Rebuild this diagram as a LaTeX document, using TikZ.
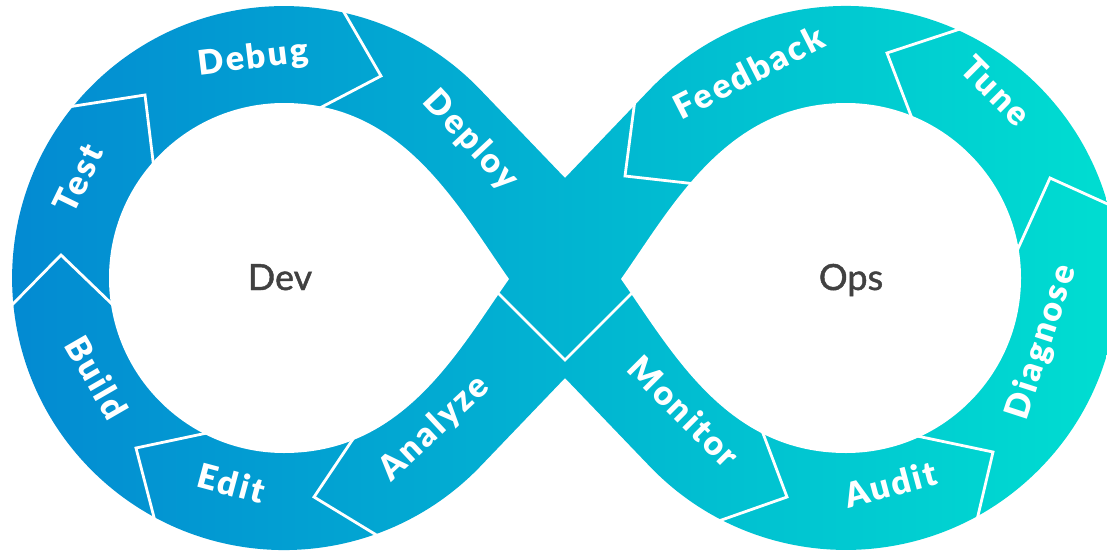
\documentclass[tikz,border=0pt]{standalone}
\usepackage{fontspec}
\setmainfont{Lato}
\newfontfamily\stagefont[LetterSpace=7]{Lato Black}
\newfontfamily\hubfont[FakeBold=1.2]{Lato}
\definecolor{devblue}{HTML}{0388D2}
\definecolor{midblue}{HTML}{00AAD0}
\definecolor{opscyan}{HTML}{00E0D1}
\definecolor{hubgray}{HTML}{414141}

\begin{document}
\begin{tikzpicture}[x=1pt, y=-1pt,
    stage/.style={text=white, font=\stagefont\fontsize{34}{34}\selectfont,
      inner sep=0pt, text height=0.7em, text depth=0pt},
    hub/.style={text=hubgray, font=\hubfont\fontsize{36}{36}\selectfont, inner sep=0pt, anchor=base},
    divider/.style={draw=white, line width=2.8pt, line join=miter}]
    \useasboundingbox[fill=white] (0,0) rectangle (1107,554);

    \shade[left color=devblue, middle color=midblue, right color=opscyan]
        (565,178) -- (480.4,89.8) arc[start angle=-43.8, end angle=-316.2, radius=272]
        -- (565,378) -- (649.6,466.2) arc[start angle=136.2, end angle=-136.2, radius=272]
        -- cycle;
    \fill[white] (509,279) .. controls (457,205) and (403,103) .. (284,103)
        arc[start angle=-90, end angle=-270, radius=175]
        .. controls (403,453) and (457,353) .. (509,279) -- cycle;
    \fill[white] (621,279) .. controls (673,205) and (727,103) .. (846,103)
        arc[start angle=-90, end angle=90, radius=175]
        .. controls (727,453) and (673,353) .. (621,279) -- cycle;

    \draw[divider] (9,308) -- (61,255) -- (114,306);
    \draw[divider] (68,107) -- (145,95) -- (154,169);
    \draw[divider] (341,7) -- (381,76) -- (316,110);
    \draw[divider] (207,433) -- (136,448) -- (156,525);
    \draw[divider] (355,436) -- (314,497) -- (383,539);
    \draw[divider] (496,291) -- (565,360) -- (634,291);
    \draw[divider] (636,92) -- (625,176) -- (696,184);
    \draw[divider] (963,28) -- (887,53) -- (913,121);
    \draw[divider] (1016,253) -- (1050,178) -- (1112,206);
    \draw[divider] (917,436) -- (993,452) -- (976,524);
    \draw[divider] (761,428) -- (787,497) -- (713,523);

    \node[stage, rotate=64] (test) at (86,182) {Test};
    \node[stage, rotate=7] (debug) at (254,65) {Debug};
    \node[stage, rotate=-47] (deploy) at (466,145) {Deploy};
    \node[stage, rotate=-60] (build) at (89,382) {Build};
    \node[stage, rotate=-15] (edit) at (229,492) {Edit};
    \node[stage, rotate=43] (analyze) at (439,433) {Analyze};
    \node[stage, rotate=27] (feedback) at (753,80) {Feedback};
    \node[stage, rotate=-45] (tune) at (990,97) {Tune};
    \node[stage, rotate=72] (diagnose) at (1048,344) {Diagnose};
    \node[stage, rotate=15] (audit) at (893,493) {Audit};
    \node[stage, rotate=-45] (monitor) at (678,418) {Monitor};

    \node[hub] (dev) at (280,290) {Dev};
    \node[hub] (ops) at (851,290) {Ops};
\end{tikzpicture}
\end{document}
